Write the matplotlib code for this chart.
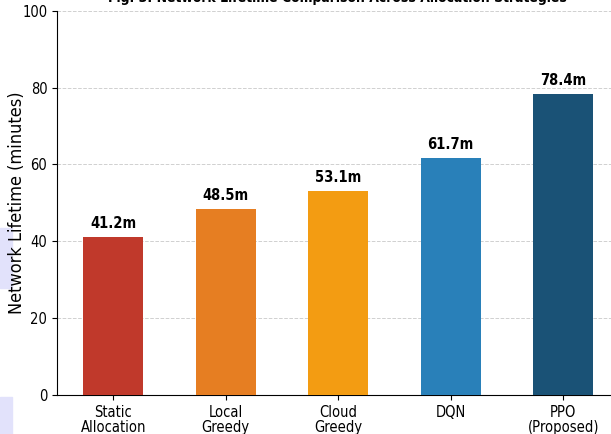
import numpy as np
import matplotlib.pyplot as plt
from matplotlib.patches import Rectangle

strategies = ['Static\nAllocation', 'Local\nGreedy', 'Cloud\nGreedy', 'DQN', 'PPO\n(Proposed)']
lifetime = [41.2, 48.5, 53.1, 61.7, 78.4]
colors = ['#c0392b', '#e67e22', '#f39c12', '#2980b9', '#1a5276']

plt.rcParams['font.stretch'] = 'condensed'

fig = plt.figure(figsize=(6.11, 4.34), dpi=100)
ax = fig.add_axes([0.0933, 0.090, 0.9206, 0.885])
ax.set_zorder(1)

x = np.arange(len(strategies))
bars = ax.bar(x, lifetime, width=0.53, color=colors, zorder=3)

# value labels on top of bars
for b, v in zip(bars, lifetime):
    ax.text(b.get_x() + b.get_width() / 2, v + 1.6, f'{v}m',
            ha='center', va='bottom', fontsize=10.5, fontweight='bold')

ax.set_xlim(-0.5, 4.5)
ax.set_ylim(0, 100)
ax.set_xticks(x)
ax.set_xticklabels(strategies, fontsize=10.5, linespacing=1.0)
ax.set_yticks([0, 20, 40, 60, 80, 100])
ax.tick_params(axis='y', labelsize=10.5)
ax.set_ylabel('Network Lifetime (minutes)', fontsize=13)
ax.yaxis.set_label_coords(-0.055, 0.5)
ax.yaxis.grid(True, linestyle='--', color='#d0d0d0', linewidth=0.7, zorder=0)
ax.spines['top'].set_visible(False)
ax.spines['right'].set_visible(False)

# title, mostly cut off at the top of the picture
fig.text(0.552, 1.005, 'Fig. 3: Network Lifetime Comparison Across Allocation Strategies',
         ha='center', va='center', fontsize=10, fontweight='bold')

# light patches at the left edge, behind the axes
fig.patches.append(Rectangle((0, (434 - 288) / 434), 12 / 611, 60 / 434,
                             transform=fig.transFigure, color='#e2e2fb', zorder=0.5))
fig.patches.append(Rectangle((0, 0), 12 / 611, 37 / 434,
                             transform=fig.transFigure, color='#e2e2fb', zorder=0.5))

fig.savefig('out.png', dpi=100)
